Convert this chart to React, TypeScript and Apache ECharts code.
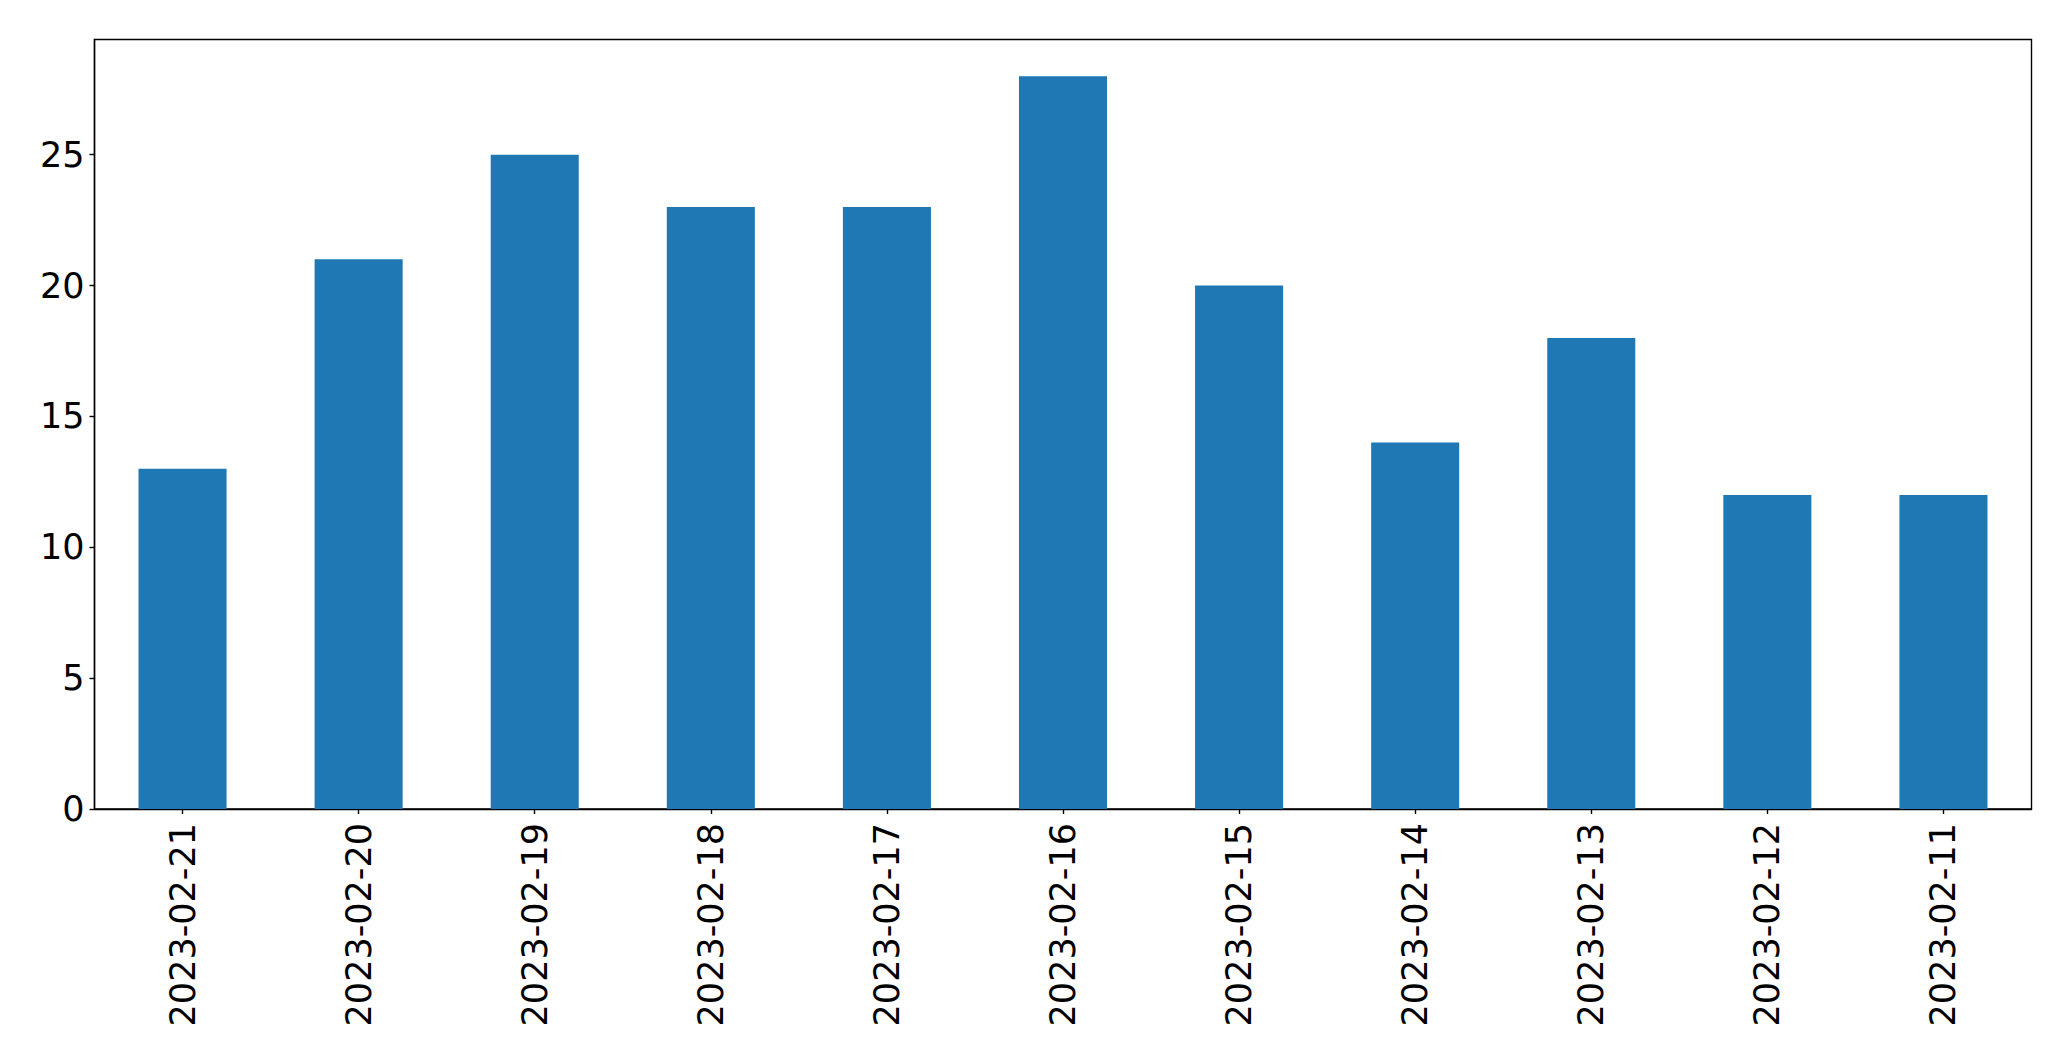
import React, { useEffect, useRef } from "react";
import * as echarts from "echarts";

const categories = [
  "2023-02-21", "2023-02-20", "2023-02-19", "2023-02-18", "2023-02-17", "2023-02-16",
  "2023-02-15", "2023-02-14", "2023-02-13", "2023-02-12", "2023-02-11",
];
const values = [13, 21, 25, 23, 23, 28, 20, 14, 18, 12, 12];
const yMax = 29.4;
const yInterval = 5;

export default function App() {
  const ref = useRef<HTMLDivElement>(null);
  useEffect(() => {
    if (!ref.current) return;
    const chart = echarts.init(ref.current, undefined, { renderer: "svg" });
    const font = "DejaVu Sans";
    chart.setOption({
      animation: false,
      backgroundColor: "#ffffff",
      grid: {
        left: 94.5,
        top: 39.5,
        width: 1937,
        height: 769.5,
        show: true,
        borderColor: "#000000",
        borderWidth: 1.4,
        containLabel: false,
      },
      xAxis: {
        type: "category",
        data: categories,
        boundaryGap: true,
        axisLine: { show: true, lineStyle: { color: "#000000", width: 1.4 } },
        axisTick: { show: true, alignWithLabel: true, length: 5, lineStyle: { color: "#000000", width: 1.4 } },
        axisLabel: {
          rotate: 90,
          fontSize: 35,
          fontFamily: font,
          color: "#000000",
          margin: 14,
          interval: 0,
        },
        splitLine: { show: false },
      },
      yAxis: {
        type: "value",
        min: 0,
        max: yMax,
        interval: yInterval,
        axisLine: { show: true, lineStyle: { color: "#000000", width: 1.4 } },
        axisTick: { show: true, length: 5, lineStyle: { color: "#000000", width: 1.4 } },
        axisLabel: {
          fontSize: 35,
          fontFamily: font,
          color: "#000000",
          margin: 10,
          showMaxLabel: false,
          formatter: (v: number) => (v % yInterval === 0 ? String(v) : ""),
        },
        splitLine: { show: false },
      },
      series: [
        {
          type: "bar",
          data: values,
          barWidth: "50%",
          itemStyle: { color: "#1f77b4" },
        },
      ],
    });
    return () => chart.dispose();
  }, []);
  return (
    <div
      ref={ref}
      style={{ position: "fixed", left: 0, top: 0, width: 2071, height: 1061, background: "#fff" }}
    />
  );
}
